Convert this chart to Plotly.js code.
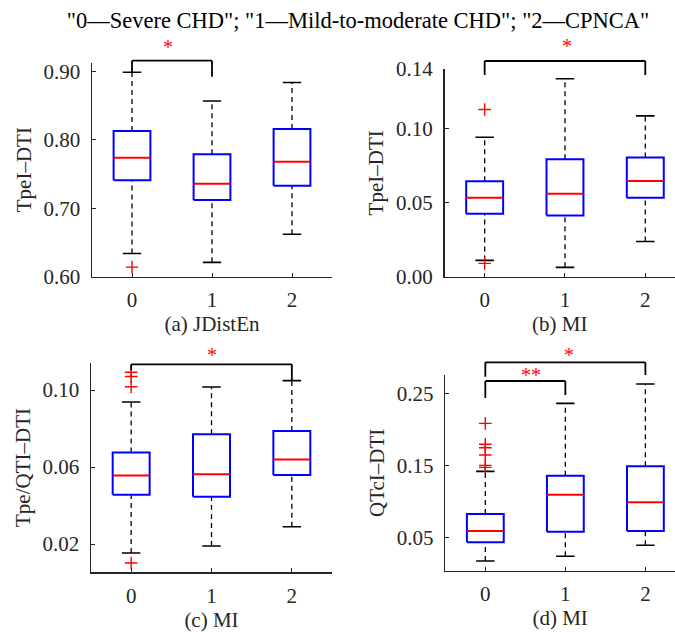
<!DOCTYPE html>
<html><head><meta charset="utf-8">
<script src="https://cdn.plot.ly/plotly-3.0.1.min.js"></script>
<style>html,body{margin:0;padding:0;background:#fff}#chart{width:675px;height:632px}</style>
</head><body><div id="chart"></div>
<script>
// ---------- data ----------
const categories = ['0', '1', '2'];
const headerText = '"0—Severe CHD"; "1—Mild-to-moderate CHD"; "2—CPNCA"';

// (a) TpeI–DTI, JDistEn
const aQ1     = [0.741, 0.712, 0.733];
const aMedian = [0.774, 0.736, 0.768];
const aQ3     = [0.813, 0.779, 0.816];
const aLower  = [0.634, 0.621, 0.662];
const aUpper  = [0.899, 0.857, 0.884];
const aOutlierGroup = [0];
const aOutlierValue = [0.614];

// (b) TpeI–DTI, MI
const bQ1     = [0.0424, 0.0413, 0.0532];
const bMedian = [0.0532, 0.0559, 0.0645];
const bQ3     = [0.0643, 0.0791, 0.0803];
const bLower  = [0.0110, 0.0063, 0.0237];
const bUpper  = [0.0940, 0.1334, 0.1084];
const bOutlierGroup = [0, 0];
const bOutlierValue = [0.1127, 0.0090];

// (c) Tpe/QTI–DTI, MI
const cQ1     = [0.0456, 0.0446, 0.0559];
const cMedian = [0.0556, 0.0563, 0.0639];
const cQ3     = [0.0676, 0.0770, 0.0787];
const cLower  = [0.0153, 0.0190, 0.0290];
const cUpper  = [0.0938, 0.1016, 0.1049];
const cOutlierGroup = [0, 0, 0, 0];
const cOutlierValue = [0.1092, 0.1070, 0.1017, 0.0101];

// (d) QTcI–DTI, MI
const dQ1     = [0.0431, 0.0578, 0.0587];
const dMedian = [0.0588, 0.1091, 0.0986];
const dQ3     = [0.0824, 0.1356, 0.1486];
const dLower  = [0.0170, 0.0237, 0.0389];
const dUpper  = [0.1416, 0.2361, 0.2629];
const dOutlierGroup = [0, 0, 0, 0, 0, 0];
const dOutlierValue = [0.2083, 0.1792, 0.1745, 0.1644, 0.1500, 0.1472];

// tick labels
const aTicks = [0.60, 0.70, 0.80, 0.90], aTickText = ['0.60', '0.70', '0.80', '0.90'];
const bTicks = [0.00, 0.05, 0.10, 0.14], bTickText = ['0.00', '0.05', '0.10', '0.14'];
const cTicks = [0.02, 0.06, 0.10],       cTickText = ['0.02', '0.06', '0.10'];
const dTicks = [0.05, 0.15, 0.25],       dTickText = ['0.05', '0.15', '0.25'];

// significance pairs [groupA, groupB, label]
const aSig = [[0, 1, '*']];
const bSig = [[0, 2, '*']];
const cSig = [[0, 2, '*']];
const dSig = [[0, 2, '*'], [0, 1, '**']];

// ---------- styling / layout config ----------
const FONT = 'Liberation Serif';
const AXC = '#262626';
const panels = [
  { x: 'x',  y: 'y',  q1: aQ1, med: aMedian, q3: aQ3, lo: aLower, hi: aUpper, og: aOutlierGroup, ov: aOutlierValue,
    ticks: aTicks, tickText: aTickText, sig: aSig, yTitle: 'TpeI–DTI', xTitle: '(a) JDistEn',
    xDomain: [92/675, 332/675], yDomain: [1-276.7/632, 1-62.7/632], xRange: [-0.5, 2.5], yRange: [0.60, 0.913],
    brackets: [{top: 1.0093, legA: 0.9565, legB: 0.9346, star: 1.073, sx: 0.45}] },
  { x: 'x2', y: 'y2', q1: bQ1, med: bMedian, q3: bQ3, lo: bLower, hi: bUpper, og: bOutlierGroup, ov: bOutlierValue,
    ticks: bTicks, tickText: bTickText, sig: bSig, yTitle: 'TpeI–DTI', xTitle: '(b) MI',
    xDomain: [444.5/675, 1], yDomain: [1-276.7/632, 1-69/632], xRange: [-0.5, 2.37], yRange: [0.0, 0.14],
    brackets: [{top: 1.0385, legA: 0.971, legB: 0.971, star: 1.111, sx: 1.03}] },
  { x: 'x3', y: 'y3', q1: cQ1, med: cMedian, q3: cQ3, lo: cLower, hi: cUpper, og: cOutlierGroup, ov: cOutlierValue,
    ticks: cTicks, tickText: cTickText, sig: cSig, yTitle: 'Tpe/QTI–DTI', xTitle: '(c) MI',
    xDomain: [91/675, 332/675], yDomain: [1-572.3/632, 1-362.7/632], xRange: [-0.5, 2.5], yRange: [0.0053, 0.1142],
    brackets: [{top: 0.9924, legA: 0.965, legB: 0.917, star: 1.035, sx: 1.0}] },
  { x: 'x4', y: 'y4', q1: dQ1, med: dMedian, q3: dQ3, lo: dLower, hi: dUpper, og: dOutlierGroup, ov: dOutlierValue,
    ticks: dTicks, tickText: dTickText, sig: dSig, yTitle: 'QTcI–DTI', xTitle: '(d) MI',
    xDomain: [445.3/675, 1], yDomain: [1-570.7/632, 1-375/632], xRange: [-0.5, 2.37], yRange: [0.0036, 0.2755],
    brackets: [{top: 1.0649, legA: 0.9913, legB: 1.0, star: 1.104, sx: 1.05},
               {top: 0.9693, legA: 0.882, legB: 0.898, star: 1.002, sx: 0.57}] }
];

const HW = 0.23, CW = 0.115;
const traces = [];
const shapes = [];
const annotations = [];
const layout = {
  width: 675, height: 632,
  margin: {l: 0, r: 0, t: 0, b: 0},
  paper_bgcolor: '#fff', plot_bgcolor: '#fff',
  showlegend: false,
  font: {family: FONT, size: 21, color: AXC},
  title: {text: headerText, x: 358/675, xanchor: 'center', xref: 'paper',
          y: 1 - 20/632, yanchor: 'middle', yref: 'paper',
          font: {family: FONT, size: 22.5, color: '#000'}}
};

panels.forEach((p, k) => {
  const bx = [], by = [], mx = [], my = [], wx = [], wy = [], cx = [], cy = [];
  p.q1.forEach((_, i) => {
    bx.push(i-HW, i+HW, i+HW, i-HW, i-HW, null);
    by.push(p.q1[i], p.q1[i], p.q3[i], p.q3[i], p.q1[i], null);
    mx.push(i-HW, i+HW, null); my.push(p.med[i], p.med[i], null);
    wx.push(i, i, null, i, i, null); wy.push(p.q3[i], p.hi[i], null, p.lo[i], p.q1[i], null);
    cx.push(i-CW, i+CW, null, i-CW, i+CW, null); cy.push(p.hi[i], p.hi[i], null, p.lo[i], p.lo[i], null);
  });
  const common = {xaxis: p.x, yaxis: p.y, hoverinfo: 'skip', type: 'scatter'};
  traces.push(Object.assign({x: wx, y: wy, mode: 'lines', line: {color: '#000', width: 1.3, dash: '5px,4px'}}, common));
  traces.push(Object.assign({x: cx, y: cy, mode: 'lines', line: {color: '#000', width: 1.6}}, common));
  traces.push(Object.assign({x: bx, y: by, mode: 'lines', line: {color: '#0000ff', width: 2}}, common));
  traces.push(Object.assign({x: mx, y: my, mode: 'lines', line: {color: '#ff0000', width: 2}}, common));
  traces.push(Object.assign({x: p.og, y: p.ov, mode: 'markers', cliponaxis: false,
    marker: {symbol: 'cross-thin', size: 9, color: '#ff0000', line: {color: '#ff0000', width: 1.4}}}, common));

  const n = k === 0 ? '' : String(k + 1);
  layout['xaxis' + n] = {
    domain: p.xDomain, range: p.xRange, anchor: p.y,
    tickmode: 'array', tickvals: [0, 1, 2], ticktext: categories,
    ticks: 'inside', ticklen: 4, tickwidth: 1, tickcolor: AXC,
    showline: true, linecolor: AXC, linewidth: 1.5, showgrid: false, zeroline: false,
    tickfont: {family: FONT, size: 21, color: AXC}, ticklabelstandoff: 4,
    title: {text: p.xTitle, font: {family: FONT, size: 21, color: AXC}, standoff: 0}
  };
  layout['yaxis' + n] = {
    domain: p.yDomain, range: p.yRange, anchor: p.x,
    tickmode: 'array', tickvals: p.ticks, ticktext: p.tickText,
    ticks: 'inside', ticklen: 4, tickwidth: 1, tickcolor: AXC,
    showline: true, linecolor: AXC, linewidth: 1.5, showgrid: false, zeroline: false,
    tickfont: {family: FONT, size: 21, color: AXC}, ticklabelstandoff: 6,
    title: {text: p.yTitle, font: {family: FONT, size: 21, color: AXC}, standoff: 6}
  };

  p.sig.forEach((s, j) => {
    const b = p.brackets[j];
    const ln = {color: '#000', width: 1.8};
    const yref = p.y + ' domain';
    shapes.push({type: 'line', xref: p.x, yref: yref, x0: s[0], x1: s[1], y0: b.top, y1: b.top, line: ln});
    shapes.push({type: 'line', xref: p.x, yref: yref, x0: s[0], x1: s[0], y0: b.top, y1: b.legA, line: ln});
    shapes.push({type: 'line', xref: p.x, yref: yref, x0: s[1], x1: s[1], y0: b.top, y1: b.legB, line: ln});
    annotations.push({text: s[2], xref: p.x, yref: yref, x: b.sx, y: b.star, showarrow: false,
      xanchor: 'center', yanchor: 'middle', font: {family: FONT, size: 20, color: '#ff0000'}});
  });
});

layout.shapes = shapes;
layout.annotations = annotations;
Plotly.newPlot('chart', traces, layout, {staticPlot: true, displayModeBar: false});
</script>
</body></html>
